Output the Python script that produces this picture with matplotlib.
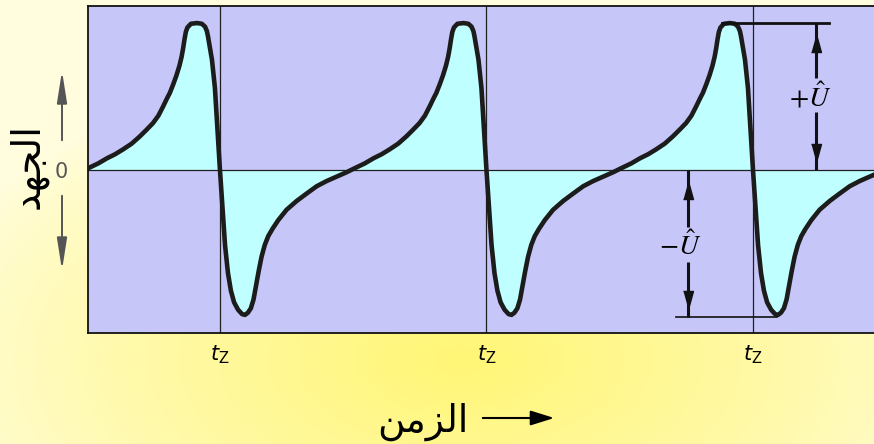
import numpy as np
import matplotlib
matplotlib.use('Agg')
import matplotlib.pyplot as plt

# one period of the pulse, relative to the zero crossing t_Z
# phase in periods, voltage in units of U-hat
phase = [-0.495, -0.457, -0.424, -0.394, -0.364, -0.331, -0.300, -0.275, -0.251,
         -0.231, -0.214, -0.198, -0.188, -0.175, -0.163, -0.152, -0.144, -0.138,
         -0.133, -0.128, -0.122, -0.109, -0.086, -0.068, -0.056, -0.049,
         -0.045, -0.030, -0.019, 0.0,
         0.019, 0.030, 0.041, 0.053, 0.068, 0.083, 0.094, 0.105, 0.116, 0.126,
         0.135, 0.145, 0.156, 0.168, 0.181, 0.197, 0.219, 0.250, 0.288, 0.325,
         0.363, 0.400, 0.438, 0.475]
volt = [0.012, 0.045, 0.08, 0.107, 0.14, 0.18, 0.23, 0.275, 0.32,
        0.37, 0.43, 0.49, 0.525, 0.585, 0.645, 0.71, 0.77, 0.83,
        0.89, 0.94, 0.97, 0.995, 1.0, 0.995, 0.975, 0.945,
        0.91, 0.75, 0.56, 0.0,
        -0.51, -0.70, -0.82, -0.90, -0.95, -0.98, -0.985, -0.97, -0.94, -0.88,
        -0.79, -0.69, -0.59, -0.51, -0.45, -0.40, -0.34, -0.27, -0.21, -0.16,
        -0.11, -0.075, -0.045, -0.015]

tz = [1, 2, 3]
tz_labels = [r'$t_{\mathrm{Z}}$'] * 3
peak_u = 1.0
trough_u = -1.0

# arabic labels in presentation forms, visual order (matplotlib does no shaping)
volt_label = '\uFEAA\uFEEC\uFEA0\uFEDF\uFE8D'   # الجهد
time_label = '\uFEE6\uFEE3\uFEB0\uFEDF\uFE8D'   # الزمن

W, H = 874, 444
fig = plt.figure(figsize=(W / 100, H / 100), dpi=100)

# yellow glow background
bg = fig.add_axes([0, 0, 1, 1], zorder=0)
yy, xx = np.mgrid[0:H, 0:W]
r = np.sqrt(((xx - 460) / 560) ** 2 + ((yy - 360) / 300) ** 2)
w = np.clip(1 - r, 0, 1) ** 0.8
inner = np.array([255, 246, 118]) / 255
outer = np.array([255, 253, 222]) / 255
img = outer + (inner - outer) * w[..., None]
bg.imshow(img, extent=(0, W, H, 0), aspect='auto')
bg.set_xlim(0, W)
bg.set_ylim(H, 0)
bg.axis('off')

ax = fig.add_axes([88.3 / W, 1 - 332.5 / H, 1 - 88.3 / W, (332.5 - 6) / H], zorder=1)
ax.set_facecolor('#c6c6f8')
ax.set_xlim(0.506, 3.454)
ax.set_ylim(-1.105, 1.116)

t = np.concatenate([k + np.array(phase) for k in tz])
u = np.tile(volt, len(tz))

ax.fill_between(t, u, 0, color='#bfffff', lw=0, zorder=1)
for x in tz:
    ax.axvline(x, color='#202020', lw=0.9, zorder=2)
ax.axhline(0, color='#202020', lw=0.9, zorder=2)
ax.plot(t, u, color='#1c1c1c', lw=3.3, solid_joinstyle='round', zorder=3)

for s in ['left', 'top', 'bottom']:
    ax.spines[s].set_linewidth(1.3)
    ax.spines[s].set_color('#111111')
ax.spines['right'].set_visible(False)

ax.set_xticks(tz, tz_labels)
ax.tick_params(axis='x', length=0, pad=8, labelsize=15)
ax.set_yticks([0], ['0'])
ax.tick_params(axis='y', length=0, pad=15, labelsize=15, labelcolor='#555555')

# +U / -U dimension marks on the last pulse
tri_up = [(-0.55, -1), (0.55, -1), (0, 1)]
tri_dn = [(-0.55, 1), (0.55, 1), (0, -1)]
dark = '#111111'
xp = tz[2] + 0.236
ax.plot([tz[2] - 0.116, tz[2] + 0.286], [peak_u, peak_u], color=dark, lw=2.0, zorder=4)
ax.plot([xp, xp], [0, 0.395], color=dark, lw=2.2, solid_capstyle='butt', zorder=4)
ax.plot([xp, xp], [0.626, peak_u], color=dark, lw=2.2, solid_capstyle='butt', zorder=4)
ax.plot(xp, 0.867, marker=tri_up, ms=13, color=dark, zorder=4)
ax.plot(xp, 0.116, marker=tri_dn, ms=13, color=dark, zorder=4)
ax.text(tz[2] + 0.215, 0.50, r'$+\hat{U}$', fontsize=20, ha='center', va='center',
        math_fontfamily='stix', zorder=4)

xm = tz[2] - 0.245
ax.plot([tz[2] - 0.288, tz[2] + 0.09], [trough_u, trough_u], color=dark, lw=1.2, zorder=4)
ax.plot([xm, xm], [0, -0.388], color=dark, lw=2.2, solid_capstyle='butt', zorder=4)
ax.plot([xm, xm], [-0.626, trough_u], color=dark, lw=2.2, solid_capstyle='butt', zorder=4)
ax.plot(xm, -0.136, marker=tri_up, ms=13, color=dark, zorder=4)
ax.plot(xm, -0.884, marker=tri_dn, ms=13, color=dark, zorder=4)
ax.text(tz[2] - 0.275, -0.52, r'$-\hat{U}$', fontsize=20, ha='center', va='center',
        math_fontfamily='stix', zorder=4)

# axis names and arrows outside the frame
gray = '#555555'
bg.annotate('', xy=(62, 68), xytext=(62, 143),
            arrowprops=dict(arrowstyle='-|>,head_length=1.6,head_width=0.25',
                            mutation_scale=12, color=gray, lw=1.4))
bg.annotate('', xy=(62, 273), xytext=(62, 193),
            arrowprops=dict(arrowstyle='-|>,head_length=1.6,head_width=0.25',
                            mutation_scale=12, color=gray, lw=1.4))
bg.text(28, 166, volt_label, rotation=90, fontsize=28,
        ha='center', va='center', family='DejaVu Sans')
bg.text(423, 422, time_label, fontsize=27,
        ha='center', va='center', family='DejaVu Sans')
bg.annotate('', xy=(557, 418), xytext=(480, 418),
            arrowprops=dict(arrowstyle='-|>,head_length=0.8,head_width=0.25',
                            mutation_scale=18, color='black', lw=1.5))

fig.savefig('out.png', dpi=100)
